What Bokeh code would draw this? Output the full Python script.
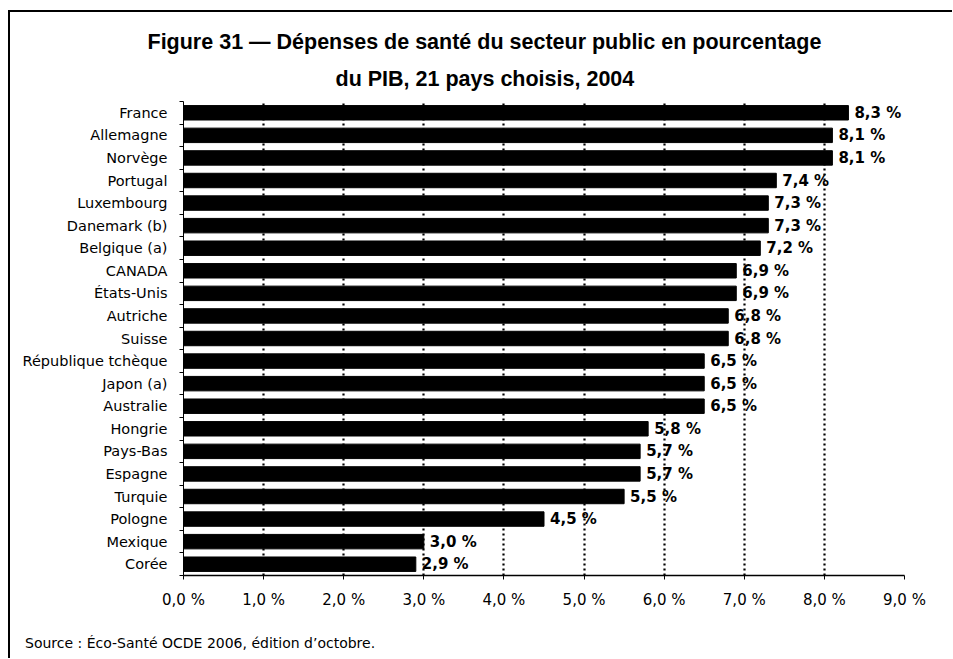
from bokeh.plotting import figure
from bokeh.layouts import column
from bokeh.models import Range1d, FixedTicker, Title, Div
from bokeh.core.properties import value
from bokeh.embed import file_html
from bokeh.resources import INLINE

countries = ["France", "Allemagne", "Norvège", "Portugal", "Luxembourg", "Danemark (b)",
             "Belgique (a)", "CANADA", "États-Unis", "Autriche", "Suisse",
             "République tchèque", "Japon (a)", "Australie", "Hongrie", "Pays-Bas",
             "Espagne", "Turquie", "Pologne", "Mexique", "Corée"]
values = [8.3, 8.1, 8.1, 7.4, 7.3, 7.3, 7.2, 6.9, 6.9, 6.8, 6.8,
          6.5, 6.5, 6.5, 5.8, 5.7, 5.7, 5.5, 4.5, 3.0, 2.9]
value_labels = ["8,3 %", "8,1 %", "8,1 %", "7,4 %", "7,3 %", "7,3 %", "7,2 %", "6,9 %",
                "6,9 %", "6,8 %", "6,8 %", "6,5 %", "6,5 %", "6,5 %", "5,8 %", "5,7 %",
                "5,7 %", "5,5 %", "4,5 %", "3,0 %", "2,9 %"]
x_ticks = [0, 1, 2, 3, 4, 5, 6, 7, 8, 9]
x_tick_labels = ["0,0 %", "1,0 %", "2,0 %", "3,0 %", "4,0 %", "5,0 %", "6,0 %",
                 "7,0 %", "8,0 %", "9,0 %"]
title_1 = "Figure 31 \u2014 Dépenses de santé du secteur public en pourcentage"
title_2 = "du PIB, 21 pays choisis, 2004"
source = "Source : Éco-Santé OCDE 2006, édition d\u2019octobre."

n = len(countries)
ypos = [n - 1 - i for i in range(n)]
bounds = [i - 0.5 for i in range(n + 1)]

FONT = "DejaVu Sans"

p = figure(width=942, height=606, output_backend="svg", toolbar_location=None,
           x_range=Range1d(0, 9), y_range=Range1d(-0.5, n - 0.5),
           min_border_left=173, min_border_right=48, min_border_top=89,
           min_border_bottom=43)
p.outline_line_color = None
p.background_fill_color = "white"
p.border_fill_color = "white"

# grid
p.ygrid.visible = False
p.xgrid.ticker = FixedTicker(ticks=x_ticks[1:])
p.xgrid.grid_line_color = "black"
p.xgrid.grid_line_width = 2.2
p.xgrid.grid_line_dash = "2 3"

# bars
p.hbar(y=ypos, left=0, right=values, height=0.64, fill_color="black", line_color="black")
p.text(x=values, y=ypos, text=value_labels, x_offset=6, text_baseline="middle",
       text_align="left", text_font=value(FONT), text_font_style="bold",
       text_font_size="15px", text_color="black")

# x axis
xa = p.xaxis[0]
xa.ticker = FixedTicker(ticks=x_ticks)
xa.major_label_overrides = {t: l for t, l in zip(x_ticks, x_tick_labels)}
xa.major_tick_out = 4
xa.major_tick_in = 0
xa.minor_tick_out = 0
xa.minor_tick_in = 0
xa.axis_line_width = 1.5
xa.axis_line_color = "black"
xa.major_tick_line_color = "black"
xa.major_label_text_font = FONT
xa.major_label_text_font_size = "15px"
xa.major_label_text_color = "black"
xa.major_label_standoff = 11

# y axis
ya = p.yaxis[0]
ya.ticker = FixedTicker(ticks=ypos, minor_ticks=bounds)
ya.major_label_overrides = {y: c for y, c in zip(ypos, countries)}
ya.major_tick_out = 0
ya.major_tick_in = 0
ya.minor_tick_out = 4
ya.minor_tick_in = 0
ya.minor_tick_line_color = "black"
ya.axis_line_color = "black"
ya.axis_line_width = 1
ya.major_label_text_font = FONT
ya.major_label_text_font_size = "14.5px"
ya.major_label_text_color = "black"
ya.major_label_standoff = 12

# titles (later-added titles sit further from the frame)
p.add_layout(Title(text=title_2, align="left", offset=152, standoff=22,
                   text_font="Liberation Sans", text_font_style="bold",
                   text_font_size="21.5px", text_color="black",
                   text_line_height=1.0), "above")
p.add_layout(Title(text=title_1, align="left", offset=-36, standoff=0,
                   text_font="Liberation Sans", text_font_style="bold",
                   text_font_size="21.5px", text_color="black",
                   text_line_height=1.0), "above")

# source line below the chart
src = Div(text=('<div style="padding:17px 0 0 15px; font-family:\'DejaVu Sans\'; '
                'font-size:14px; line-height:16px; color:black; white-space:nowrap;">'
                + source + '</div>'),
          width=942, height=40, margin=0)

layout = column(p, src, spacing=0,
                styles={"margin-left": "8px", "margin-top": "10px",
                        "border-left": "2px solid black", "border-top": "2px solid black"})

open("out.html", "w").write(file_html(layout, INLINE))
